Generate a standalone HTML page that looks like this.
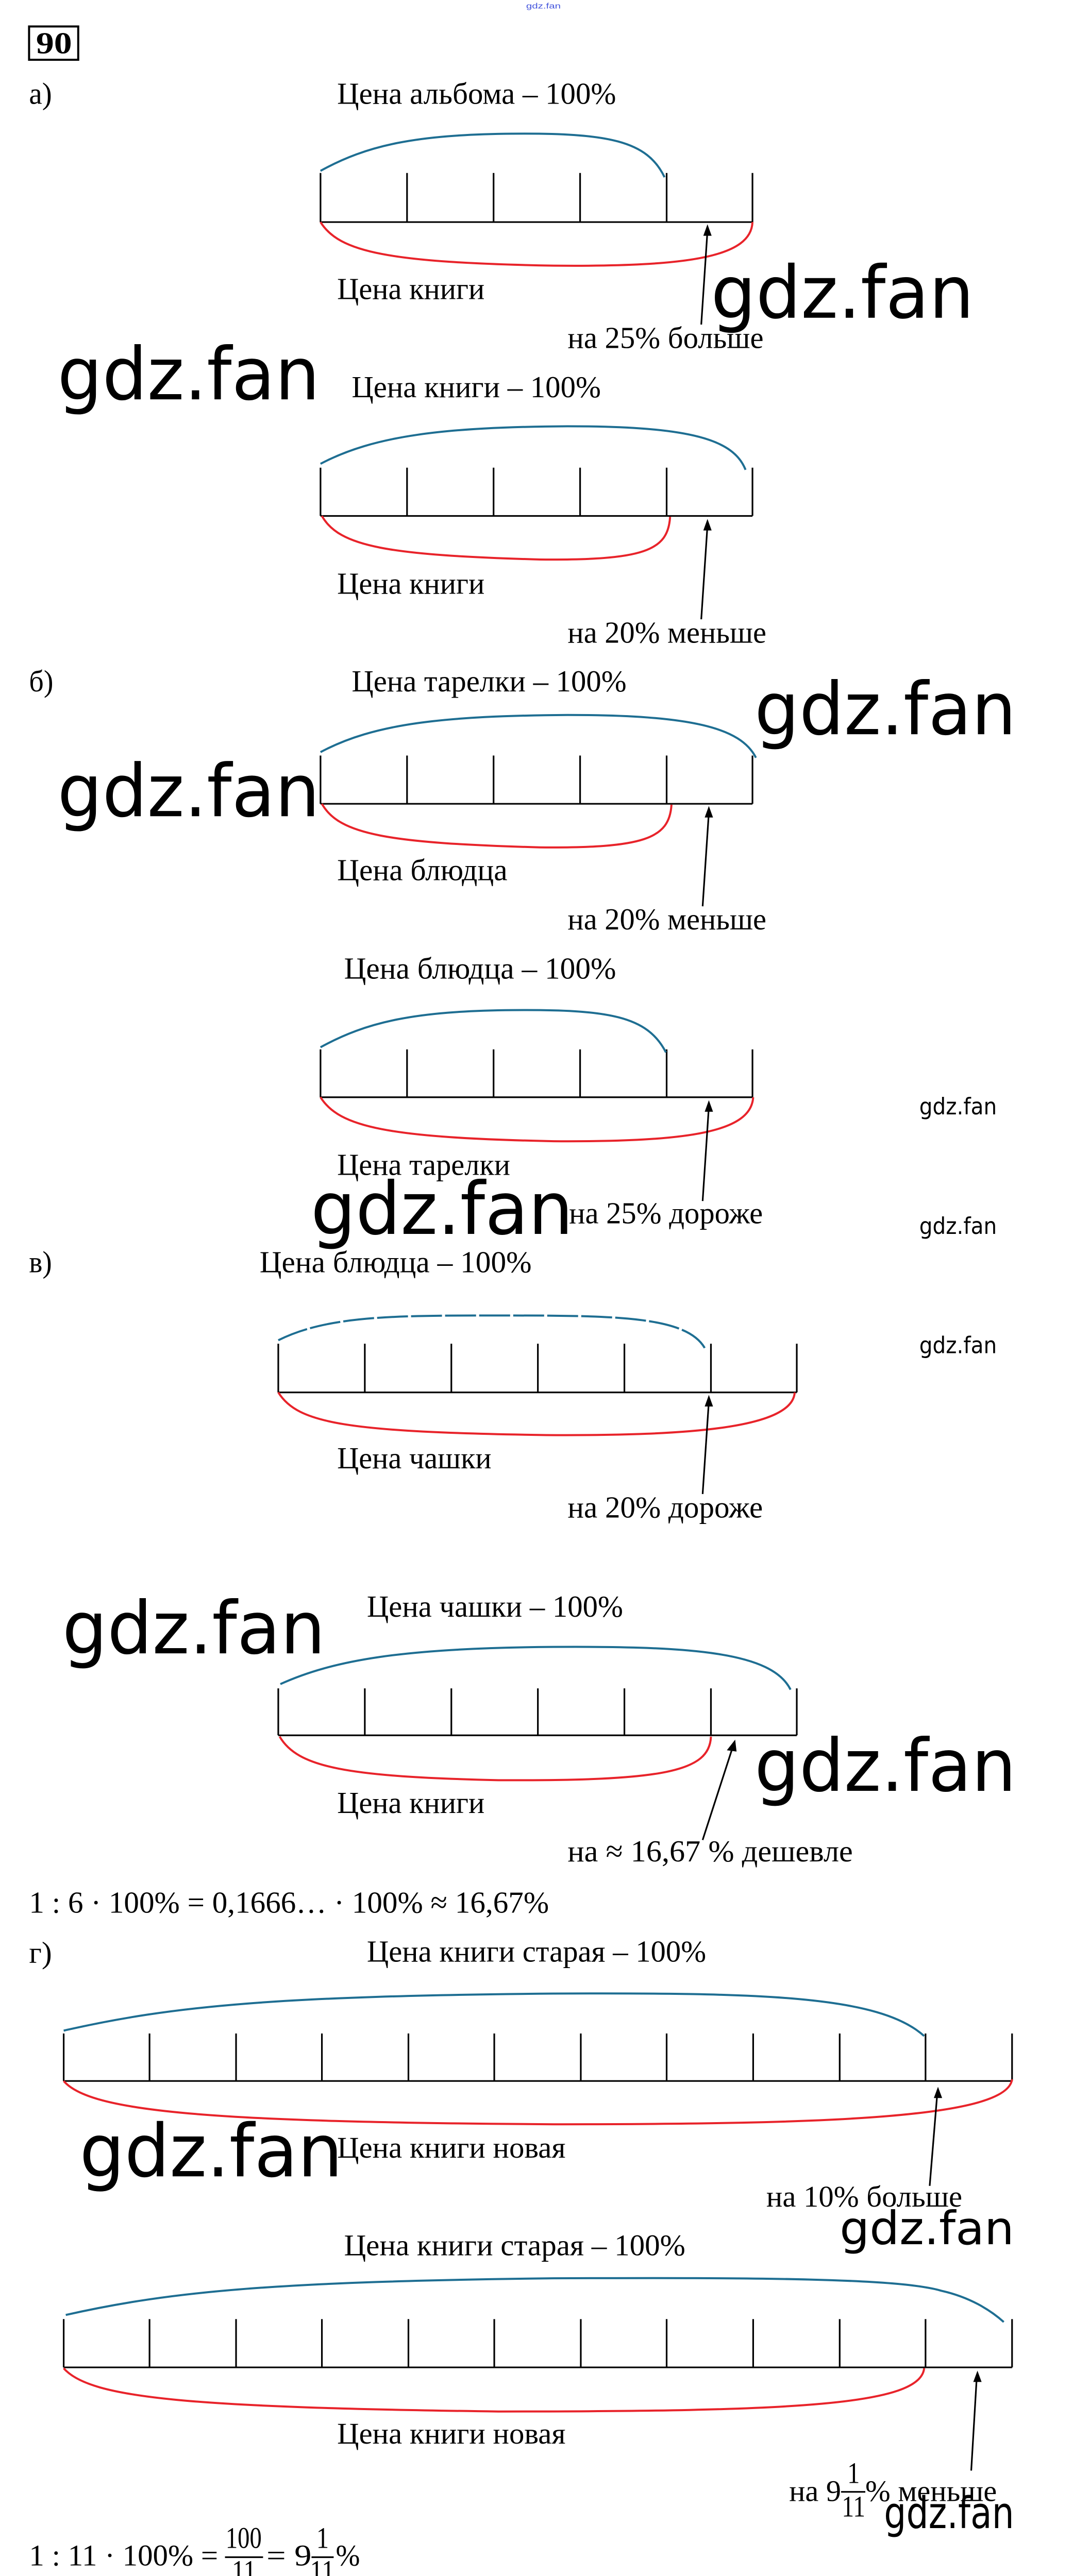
<!DOCTYPE html>
<html><head><meta charset="utf-8"><style>
html,body{margin:0;padding:0;background:#fff;overflow:hidden;width:2082px;height:5067px}
svg{display:block}
.t{font-family:"Liberation Serif","DejaVu Serif",serif;font-size:72px;fill:#000}
.w{font-family:"DejaVu Sans","Liberation Sans",sans-serif;fill:#000}
.b{fill:none;stroke:#1e6e92;stroke-width:4;vector-effect:non-scaling-stroke}
.r{fill:none;stroke:#e8232a;stroke-width:4;vector-effect:non-scaling-stroke}
.k{stroke:#000;stroke-width:3.2;fill:none;vector-effect:non-scaling-stroke}
</style></head><body>
<svg width="2082" height="5067" viewBox="0 0 2082 5067" xmlns="http://www.w3.org/2000/svg">
<rect width="2082" height="5067" fill="#fff"/>

<!-- Group 1 -->
<g transform="translate(0,0) scale(1.3432,0.829)">
<text x="760" y="20" font-family="Liberation Sans,sans-serif" font-size="18" fill="#4455dd" textLength="50" lengthAdjust="spacingAndGlyphs">gdz.fan</text>
<rect x="42" y="62" width="71" height="78" fill="none" stroke="#000" stroke-width="4" vector-effect="non-scaling-stroke"/>
<text class="t" x="52" y="125" font-size="62" font-weight="bold" textLength="52" lengthAdjust="spacingAndGlyphs">90</text>
<text class="t" x="42" y="243" textLength="33" lengthAdjust="spacingAndGlyphs">а)</text>
<text class="t" x="487" y="243" textLength="403" lengthAdjust="spacingAndGlyphs">Цена альбома – 100%</text>
<path class="k" d="M463,520H1087M463,405V520M588,405V520M713,405V520M838,405V520M963,405V520M1087,405V520"/>
<path class="b" d="M463,400C530,340 600,315 740,313C880,311 935,330 960,415"/>
<path class="r" d="M463,520C490,590 560,615 800,622C1000,625 1085,600 1087,520"/>
<path class="k" d="M1013,760L1022,540"/><polygon points="1022,525 1016,552 1028,552"/>
<text class="t" x="487" y="700" textLength="213" lengthAdjust="spacingAndGlyphs">Цена книги</text>
<text class="t" x="820" y="815" textLength="283" lengthAdjust="spacingAndGlyphs">на 25% больше</text>
<text class="w" x="1027" y="744" font-size="170" textLength="380" lengthAdjust="spacingAndGlyphs">gdz.fan</text>
<text class="w" x="83" y="935" font-size="170" textLength="379" lengthAdjust="spacingAndGlyphs">gdz.fan</text>
<text class="t" x="508" y="930" textLength="360" lengthAdjust="spacingAndGlyphs">Цена книги – 100%</text>
<path class="k" d="M463,1208H1087M463,1095V1208M588,1095V1208M713,1095V1208M838,1095V1208M963,1095V1208M1087,1095V1208"/>
<path class="b" d="M463,1086C540,1020 640,1000 820,998C1000,998 1060,1030 1077,1100"/>
<path class="r" d="M465,1208C490,1280 560,1300 780,1310C930,1312 965,1290 968,1210"/>
<path class="k" d="M1013,1450L1022,1230"/><polygon points="1022,1215 1016,1242 1028,1242"/>
<text class="t" x="487" y="1390" textLength="213" lengthAdjust="spacingAndGlyphs">Цена книги</text>
<text class="t" x="820" y="1505" textLength="287" lengthAdjust="spacingAndGlyphs">на 20% меньше</text>
</g>

<!-- Group 3 -->
<g transform="translate(0,1280) scale(1.3432,0.829)">
<text class="t" x="42" y="75" textLength="35" lengthAdjust="spacingAndGlyphs">б)</text>
<text class="t" x="508" y="75" textLength="397" lengthAdjust="spacingAndGlyphs">Цена тарелки – 100%</text>
<text class="w" x="1090" y="175" font-size="170" textLength="378" lengthAdjust="spacingAndGlyphs">gdz.fan</text>
<text class="w" x="83" y="367" font-size="170" textLength="379" lengthAdjust="spacingAndGlyphs">gdz.fan</text>
<path class="k" d="M463,338H1087M463,225V338M588,225V338M713,225V338M838,225V338M963,225V338M1087,225V338"/>
<path class="b" d="M463,217C540,150 640,132 820,130C1000,130 1070,160 1092,230"/>
<path class="r" d="M465,338C490,410 560,430 780,440C930,442 967,420 970,340"/>
<path class="k" d="M1015,578L1024,358"/><polygon points="1024,343 1018,370 1030,370"/>
<text class="t" x="487" y="517" textLength="246" lengthAdjust="spacingAndGlyphs">Цена блюдца</text>
<text class="t" x="820" y="632" textLength="287" lengthAdjust="spacingAndGlyphs">на 20% меньше</text>
<text class="t" x="497" y="747" textLength="393" lengthAdjust="spacingAndGlyphs">Цена блюдца – 100%</text>
<path class="k" d="M463,1025H1087M463,913V1025M588,913V1025M713,913V1025M838,913V1025M963,913V1025M1087,913V1025"/>
<path class="b" d="M463,908C530,848 600,823 740,821C880,819 935,835 962,920"/>
<path class="r" d="M463,1025C490,1095 560,1120 800,1128C1000,1130 1085,1105 1088,1025"/>
<path class="k" d="M1015,1268L1024,1047"/><polygon points="1024,1032 1018,1059 1030,1059"/>
<text class="w" x="1328" y="1065" font-size="54" textLength="112" lengthAdjust="spacingAndGlyphs">gdz.fan</text>
<text class="w" x="1328" y="1345" font-size="54" textLength="112" lengthAdjust="spacingAndGlyphs">gdz.fan</text>
<text class="t" x="487" y="1207" textLength="250" lengthAdjust="spacingAndGlyphs">Цена тарелки</text>
<text class="t" x="822" y="1320" textLength="280" lengthAdjust="spacingAndGlyphs">на 25% дороже</text>
<text class="w" x="449" y="1345" font-size="170" textLength="379" lengthAdjust="spacingAndGlyphs">gdz.fan</text>
<text class="t" x="42" y="1435" textLength="33" lengthAdjust="spacingAndGlyphs">в)</text>
<text class="t" x="375" y="1435" textLength="393" lengthAdjust="spacingAndGlyphs" fill="#222">Цена блюдца – 100%</text>
</g>

<!-- Group 4 -->
<g transform="translate(0,2560) scale(1.3432,0.829)">
<path class="k" d="M402,172H1151M402,58V172M527,58V172M652,58V172M777,58V172M902,58V172M1027,58V172M1151,58V172"/>
<path class="b" d="M402,50C470,-5 560,-8 700,-8C880,-8 990,-10 1018,68" stroke-dasharray="60 6"/>
<path class="r" d="M402,172C430,245 500,265 790,272C1000,274 1145,255 1148,172"/>
<path class="k" d="M1015,410L1024,193"/><polygon points="1024,178 1018,205 1030,205"/>
<text class="w" x="1328" y="80" font-size="54" textLength="112" lengthAdjust="spacingAndGlyphs">gdz.fan</text>
<text class="t" x="487" y="350" textLength="223" lengthAdjust="spacingAndGlyphs">Цена чашки</text>
<text class="t" x="820" y="465" textLength="282" lengthAdjust="spacingAndGlyphs">на 20% дороже</text>
<text class="w" x="90" y="783" font-size="170" textLength="380" lengthAdjust="spacingAndGlyphs">gdz.fan</text>
<text class="t" x="530" y="697" textLength="370" lengthAdjust="spacingAndGlyphs">Цена чашки – 100%</text>
<path class="k" d="M402,975H1151M402,865V975M527,865V975M652,865V975M777,865V975M902,865V975M1027,865V975M1151,865V975"/>
<path class="b" d="M405,855C480,800 580,770 800,768C1000,766 1115,780 1142,868"/>
<path class="r" d="M404,978C430,1050 500,1072 720,1080C960,1082 1025,1060 1027,978"/>
<path class="k" d="M1015,1220L1058,1005"/><polygon points="1062,985 1050,1010 1064,1013"/>
<text class="w" x="1090" y="1105" font-size="170" textLength="378" lengthAdjust="spacingAndGlyphs">gdz.fan</text>
<text class="t" x="487" y="1157" textLength="213" lengthAdjust="spacingAndGlyphs">Цена книги</text>
<text class="t" x="820" y="1270" textLength="412" lengthAdjust="spacingAndGlyphs">на ≈ 16,67 % дешевле</text>
<text class="t" x="42" y="1390" textLength="751" lengthAdjust="spacingAndGlyphs">1 : 6 · 100% = 0,1666… · 100% ≈ 16,67%</text>
<text class="t" x="42" y="1508" textLength="33" lengthAdjust="spacingAndGlyphs">г)</text>
<text class="t" x="530" y="1505" textLength="490" lengthAdjust="spacingAndGlyphs">Цена книги старая – 100%</text>
</g>

<!-- Group 2 -->
<g transform="translate(0,3800) scale(1.3432,0.808)">
<path class="k" d="M92,296H1462M92,182V296M216,182V296M341,182V296M465,182V296M590,182V296M714,182V296M839,182V296M963,182V296M1088,182V296M1213,182V296M1337,182V296M1462,182V296"/>
<path class="b" d="M92,175C250,115 400,92 800,86C1100,84 1270,90 1335,188"/>
<path class="r" d="M92,296C130,370 300,395 800,400C1200,400 1455,385 1462,292"/>
<path class="k" d="M1343,548L1354,325"/><polygon points="1355,310 1349,337 1361,337"/>
<text class="w" x="115" y="525" font-size="175" textLength="380" lengthAdjust="spacingAndGlyphs">gdz.fan</text>
<text class="t" x="487" y="480" textLength="330" lengthAdjust="spacingAndGlyphs">Цена книги новая</text>
<text class="t" x="1107" y="598" textLength="283" lengthAdjust="spacingAndGlyphs">на 10% больше</text>
<text class="w" x="1213" y="688" font-size="110" textLength="252" lengthAdjust="spacingAndGlyphs">gdz.fan</text>
<text class="t" x="497" y="715" textLength="493" lengthAdjust="spacingAndGlyphs">Цена книги старая – 100%</text>
<path class="k" d="M92,984H1462M92,868V984M216,868V984M341,868V984M465,868V984M590,868V984M714,868V984M839,868V984M963,868V984M1088,868V984M1213,868V984M1337,868V984M1462,868V984"/>
<path class="b" d="M95,858C250,800 400,778 800,770C1100,768 1300,770 1360,800C1400,815 1430,845 1450,875"/>
<path class="r" d="M92,986C130,1060 280,1080 720,1090C1150,1090 1330,1075 1335,986"/>
<path class="k" d="M1403,1232L1411,1007"/><polygon points="1412,992 1406,1019 1418,1019"/>
<text class="t" x="487" y="1167" textLength="330" lengthAdjust="spacingAndGlyphs">Цена книги новая</text>
<text class="t" x="1140" y="1305" textLength="75" lengthAdjust="spacingAndGlyphs">на 9</text>
<text class="t" x="1224" y="1262" font-size="48" textLength="18" lengthAdjust="spacingAndGlyphs">1</text>
<path class="k" d="M1215,1283H1250"/>
<text class="t" x="1216" y="1342" font-size="48" textLength="34" lengthAdjust="spacingAndGlyphs">11</text>
<text class="t" x="1250" y="1305" textLength="190" lengthAdjust="spacingAndGlyphs">% меньше</text>
<text class="w" x="1277" y="1370" font-size="105" textLength="188" lengthAdjust="spacingAndGlyphs">gdz.fan</text>
<text class="t" x="42" y="1460" textLength="273" lengthAdjust="spacingAndGlyphs">1 : 11 · 100% =</text>
<text class="t" x="326" y="1418" font-size="48" textLength="52" lengthAdjust="spacingAndGlyphs">100</text>
<path class="k" d="M325,1440H380"/>
<text class="t" x="335" y="1497" font-size="48" textLength="35" lengthAdjust="spacingAndGlyphs">11</text>
<text class="t" x="385" y="1460" textLength="65" lengthAdjust="spacingAndGlyphs">= 9</text>
<text class="t" x="457" y="1418" font-size="48" textLength="18" lengthAdjust="spacingAndGlyphs">1</text>
<path class="k" d="M450,1440H482"/>
<text class="t" x="448" y="1497" font-size="48" textLength="35" lengthAdjust="spacingAndGlyphs">11</text>
<text class="t" x="485" y="1460" textLength="35" lengthAdjust="spacingAndGlyphs">%</text>
<text class="w" x="745" y="1552" font-size="32" textLength="81" lengthAdjust="spacingAndGlyphs">Гдз.фан</text>
</g>
</svg>
</body></html>
